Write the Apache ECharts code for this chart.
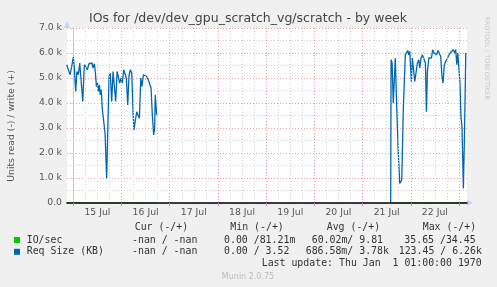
<!DOCTYPE html>
<html><head><meta charset="utf-8">
<script src="https://cdn.jsdelivr.net/npm/echarts@6/dist/echarts.min.js"></script>
<style>html,body{margin:0;padding:0;background:#f0f0f0}#c{width:497px;height:287px}</style>
</head><body><div id="c"></div>
<script>
// x values are hours since 15 Jul 00:00
const dayLabels = ['15 Jul','16 Jul','17 Jul','18 Jul','19 Jul','20 Jul','21 Jul','22 Jul'];
const labelHours = [12,36,60,84,108,132,156,180];
const majorGridHours = [0,24,48,72,96,120,144,168,192];
const minorGridHours = [6,12,18,30,36,42,54,60,66,78,84,90,102,108,114,126,132,138,150,156,162,174,180,186];

const reqHours = [-3.3,-2.5,-1.6,-0.8,0,0.5,1.2,1.8,2.5,3.2,3.8,4.7,5.5,6.2,7.0,7.8,8.7,9.3,9.8,10.5,11.0,11.5,12.0,12.5,13.0,13.4,13.9,14.4,14.9,15.8,16.6,16.9,17.8,18.4,19.1,19.8,20.4,21.1,21.8,22.4,23.1,23.8,24.4,25.1,25.7,26.4,27.1,27.7,28.4,29.1,29.7,30.2,30.9,31.6,32.2,32.9,33.6,34.2,34.9,35.7,36.5,37.3,38.2,38.7,39.3,40.0,40.5,40.8,41.5,
  100,
  158.0,158.2,158.7,159.3,160.3,161.0,161.7,162.0,162.5,163.0,163.5,164.3,164.8,165.3,166.0,166.5,167.0,167.5,168.3,168.8,169.3,170.0,170.6,171.3,172.0,172.5,173.1,173.8,174.6,175.3,175.8,176.3,177.0,177.6,178.3,178.9,179.6,180.2,180.9,181.6,182.2,182.9,183.6,184.1,184.7,185.4,186.1,186.7,187.6,188.4,189.2,189.9,190.4,190.9,191.4,191.9,192.5,193.0,193.5,194.2,194.7,195.4];
const reqSizeKB = [5530,5600,5130,5460,5840,5400,4460,5260,5130,5600,5530,4060,5530,5570,5330,5570,5530,5600,5400,5570,5200,4660,4800,4460,4730,4330,4530,3790,3720,2790,980,910,5060,5200,4060,5260,5330,4060,5260,5200,4800,5000,4800,5330,5400,5000,3920,5060,5330,5200,3720,2920,3320,3650,3520,3390,5000,4660,5130,5200,5060,4930,4860,4600,3590,2720,2990,4330,3520,
  null,
  0,5730,5600,3990,5800,3860,2180,2180,780,710,910,3790,3790,5930,6000,6100,5930,6060,4860,5800,5860,4860,4860,5600,5730,5400,5800,5930,5930,5600,3650,5260,5800,5860,5800,6130,6000,6060,5930,6100,6060,5860,5000,4800,5530,5660,5730,5860,6000,6060,6130,6000,6130,5530,6000,6060,4800,3450,3050,580,2520,6000];

const ioHours = [-3.3,8,20,32,41.5,100,158.0,166,175,184,195.4];
const ioPerSec = [12,10,9,11,8,null,10,12,11,9,12];

const legendRows = [
  {name:'IO/sec', color:'#00cc00', cur:'-nan / -nan', min:'0.00 /81.21m', avg:'60.02m/ 9.81', max:'35.65 /34.45'},
  {name:'Req Size (KB)', color:'#0066b3', cur:'-nan / -nan', min:'0.00 / 3.52', avg:'686.58m/ 3.78k', max:'123.45 / 6.26k'}
];

const chart = echarts.init(document.getElementById('c'), null, {renderer:'canvas'});
const X0 = -3.14, X1 = 196.0;
const sans = 'DejaVu Sans';

const gridMarks = [];
minorGridHours.forEach(h => gridMarks.push({xAxis:h, lineStyle:{color:'#d0d0d0', type:[1,2], width:1}}));
majorGridHours.forEach(h => gridMarks.push({xAxis:h, lineStyle:{color:'#f0a0a0', type:[1,2], width:1}}));

const monoText = (t, x, y, fill) => ({type:'text', x:x, y:y, silent:true,
  style:{text:t, font:'9.9px "DejaVu Sans Mono"', fill:fill||'#333', textAlign:'left', textVerticalAlign:'middle'}});

const graphics = [
  {type:'text', x:248, y:19, style:{text:'IOs for /dev/dev_gpu_scratch_vg/scratch - by week', font:'12.5px "DejaVu Sans"', fill:'#444', textAlign:'center', textVerticalAlign:'middle'}},
  {type:'text', x:12, y:126, rotation:Math.PI/2, style:{text:'Units read (-) / write (+)', font:'9.3px "DejaVu Sans"', fill:'#555', textAlign:'center', textVerticalAlign:'middle'}},
  {type:'text', x:487, y:58, rotation:-Math.PI/2, style:{text:'RRDTOOL / TOBI OETIKER', font:'6.5px "DejaVu Sans"', fill:'#c8c8c8', textAlign:'center', textVerticalAlign:'middle'}},
  {type:'polygon', shape:{points:[[467,199.7],[467,205.7],[473,202.7]]}, style:{fill:'#c8d0f0'}},
  {type:'polygon', shape:{points:[[64,28],[70,28],[67,21]]}, style:{fill:'#c8d0f0'}},
  monoText('Cur (-/+)', 134.7, 227.5),
  monoText('Min (-/+)', 230.3, 227.5),
  monoText('Avg (-/+)', 326.7, 227.5),
  monoText('Max (-/+)', 422.7, 227.5),
  monoText('Last update: Thu Jan  1 01:00:00 1970', 261.7, 263.5),
  {type:'text', x:248, y:276.5, style:{text:'Munin 2.0.75', font:'8px "DejaVu Sans"', fill:'#bbb', textAlign:'center', textVerticalAlign:'middle'}}
];
const rowY = [240, 251.8];
const rowX = {cur:[132,132], min:[224,224], avg:[311.7,305.7], max:[404.3,398.7]};
legendRows.forEach((r,i) => {
  graphics.push({type:'rect', shape:{x:14, y:rowY[i]-3, width:6, height:6}, style:{fill:r.color}});
  graphics.push(monoText(r.name, 26.7, rowY[i]));
  graphics.push(monoText(r.cur, rowX.cur[i], rowY[i]));
  graphics.push(monoText(r.min, rowX.min[i], rowY[i]));
  graphics.push(monoText(r.avg, rowX.avg[i], rowY[i]));
  graphics.push(monoText(r.max, rowX.max[i], rowY[i]));
});

chart.setOption({
  animation:false,
  backgroundColor:'#f0f0f0',
  grid:{left:67, top:28, width:400, height:175, show:true, backgroundColor:'#ffffff', borderWidth:0, containLabel:false},
  xAxis:{
    type:'value', min:X0, max:X1, zlevel:1,
    axisLine:{show:true, lineStyle:{color:'#000', width:1.5}},
    axisTick:{show:true, customValues:majorGridHours, length:3, inside:false, lineStyle:{color:'#f08080'}},
    axisLabel:{show:true, customValues:labelHours, margin:5, fontFamily:sans, fontSize:9.3, color:'#555',
      formatter:v => dayLabels[labelHours.indexOf(Math.round(v))] || ''},
    splitLine:{show:false}
  },
  yAxis:{
    type:'value', min:0, max:7000, interval:1000,
    axisLine:{show:true, lineStyle:{color:'#c8d0f0'}},
    axisTick:{show:true, length:2, lineStyle:{color:'#c8d0f0'}},
    axisLabel:{margin:5, fontFamily:sans, fontSize:9.3, color:'#555',
      formatter:v => v === 0 ? '0.0' : (v/1000).toFixed(1) + ' k'},
    splitLine:{show:true, lineStyle:{color:'#f0a0a0', type:[1,2]}},
    minorTick:{show:false, splitNumber:2},
    minorSplitLine:{show:true, lineStyle:{color:'#d0d0d0', type:[1,2]}}
  },
  graphic:{elements:graphics},
  series:[
    {type:'line', name:'grid', data:[], z:0, silent:true,
      markLine:{silent:true, symbol:['none','none'], label:{show:false}, animation:false, data:gridMarks}},
    {type:'line', name:'IO/sec', data:ioHours.map((h,i)=>[h, ioPerSec[i]]), showSymbol:false, connectNulls:false, z:1,
      lineStyle:{color:'#00cc00', width:0.5}},
    {type:'line', name:'Req Size (KB)', data:reqHours.map((h,i)=>[h, reqSizeKB[i]]), showSymbol:false, connectNulls:false, z:3,
      lineStyle:{color:'#0066b3', width:1.3}}
  ]
});
</script></body></html>
